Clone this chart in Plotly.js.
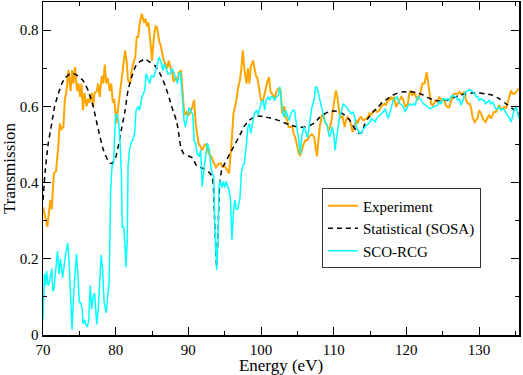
<!DOCTYPE html>
<html>
<head>
<meta charset="utf-8">
<script src="https://cdn.plot.ly/plotly-3.0.1.min.js"></script>
<style>
  html, body { margin: 0; padding: 0; background: #fff; }
  #chart { width: 523px; height: 375px; }
</style>
</head>
<body>
<div id="chart"></div>
<script>
// Transmission spectrum: experiment vs. two calculations

const expEnergy = [70.0, 70.2, 70.6, 71.0, 71.2, 71.5, 71.8, 72.1, 72.3, 72.5, 72.8, 73.0, 73.3, 73.5, 73.8, 74.0, 74.2, 74.4, 74.7, 74.9,
  75.1, 75.3, 75.5, 75.7, 76.0, 76.2, 76.4, 76.7, 76.9, 77.1, 77.4, 77.6, 77.8, 78.1, 78.3, 78.5, 78.7, 78.9, 79.2, 79.4,
  79.6, 79.8, 80.1, 80.3, 80.5, 80.8, 81.0, 81.3, 81.5, 81.7, 82.0, 82.2, 82.4, 82.7, 82.9, 83.1, 83.3, 83.6, 83.9, 84.1,
  84.3, 84.5, 84.8, 85.0, 85.3, 85.5, 85.7, 86.0, 86.2, 86.4, 86.6, 86.9, 87.1, 87.3, 87.6, 87.8, 88.0, 88.3, 88.5, 88.7,
  89.0, 89.2, 89.4, 89.6, 89.8, 90.1, 90.3, 90.5, 90.8, 91.0, 91.2, 91.4, 91.7, 91.9, 92.1, 92.4, 92.6, 92.8, 93.1, 93.3,
  93.5, 93.8, 94.0, 94.2, 94.5, 94.7, 94.9, 95.1, 95.4, 95.6, 95.8, 96.0, 96.2, 96.4, 96.6, 96.8, 97.1, 97.3, 97.5, 97.7,
  98.0, 98.2, 98.4, 98.6, 98.9, 99.1, 99.3, 99.5, 99.8, 100.0, 100.3, 100.5, 100.7, 100.9, 101.1, 101.3, 101.6, 101.8, 102.0, 102.2,
  102.5, 102.7, 102.9, 103.2, 103.4, 103.6, 103.8, 104.1, 104.3, 104.5, 104.7, 105.0, 105.2, 105.4, 105.7, 105.9, 106.1, 106.4, 106.6, 106.8,
  107.0, 107.3, 107.5, 107.7, 107.9, 108.1, 108.4, 108.6, 108.8, 109.1, 109.3, 109.5, 109.7, 110.1, 110.3, 110.5, 110.8, 111.0, 111.2, 111.5,
  111.7, 111.9, 112.2, 112.4, 112.6, 112.9, 113.1, 113.3, 113.5, 113.8, 114.0, 114.2, 114.5, 114.7, 114.9, 115.1, 115.4, 115.6, 116.0, 116.3,
  116.5, 116.7, 117.0, 117.2, 117.4, 117.6, 117.9, 118.1, 118.3, 118.6, 118.8, 119.0, 119.3, 119.5, 119.7, 119.9, 120.2, 120.4, 120.6, 120.8,
  121.1, 121.3, 121.5, 121.7, 121.9, 122.2, 122.5, 122.8, 123.1, 123.4, 123.6, 123.8, 124.0, 124.3, 124.5, 124.7, 125.0, 125.2, 125.4, 125.7,
  125.9, 126.2, 126.4, 126.6, 126.9, 127.1, 127.3, 127.5, 127.8, 128.0, 128.2, 128.5, 128.7, 128.9, 129.1, 129.4, 129.6, 129.8, 130.0, 130.3,
  130.5, 130.7, 130.9, 131.2, 131.4, 131.6, 131.9, 132.1, 132.3, 132.6, 132.8, 133.0, 133.2, 133.5, 133.7, 133.9, 134.2, 134.4, 134.6, 134.9,
  135.1, 135.3, 135.5];
const expTrans = [0.336, 0.32, 0.284, 0.354, 0.33, 0.424, 0.43, 0.493, 0.555, 0.54, 0.545, 0.616, 0.65, 0.695, 0.64, 0.695, 0.66, 0.703, 0.64, 0.66,
  0.625, 0.66, 0.59, 0.635, 0.6, 0.62, 0.61, 0.635, 0.6, 0.635, 0.64, 0.66, 0.625, 0.68, 0.66, 0.71, 0.66, 0.675, 0.64, 0.66,
  0.61, 0.62, 0.555, 0.59, 0.625, 0.677, 0.695, 0.747, 0.72, 0.668, 0.66, 0.695, 0.71, 0.73, 0.782, 0.782, 0.817, 0.843, 0.82, 0.83,
  0.81, 0.82, 0.765, 0.72, 0.79, 0.81, 0.807, 0.77, 0.76, 0.744, 0.72, 0.71, 0.70, 0.72, 0.70, 0.686, 0.665, 0.675, 0.67, 0.69,
  0.693, 0.65, 0.59, 0.577, 0.585, 0.577, 0.585, 0.595, 0.617, 0.555, 0.53, 0.503, 0.493, 0.485, 0.493, 0.502, 0.493, 0.476, 0.47, 0.46,
  0.45, 0.44, 0.445, 0.45, 0.45, 0.44, 0.445, 0.44, 0.432, 0.424, 0.467, 0.52, 0.58, 0.597, 0.615, 0.643, 0.67, 0.70, 0.747, 0.70,
  0.66, 0.70, 0.66, 0.705, 0.72, 0.70, 0.68, 0.675, 0.64, 0.616, 0.616, 0.635, 0.65, 0.667, 0.677, 0.64, 0.63, 0.62, 0.63, 0.643,
  0.648, 0.643, 0.581, 0.6, 0.572, 0.563, 0.546, 0.546, 0.546, 0.528, 0.52, 0.494, 0.476, 0.472, 0.494, 0.503, 0.511, 0.511, 0.52, 0.524,
  0.527, 0.52, 0.494, 0.469, 0.511, 0.55, 0.576, 0.576, 0.56, 0.55, 0.536, 0.545, 0.564, 0.616, 0.642, 0.625, 0.58, 0.57, 0.575, 0.546,
  0.564, 0.572, 0.564, 0.55, 0.533, 0.55, 0.564, 0.555, 0.568, 0.572, 0.564, 0.564, 0.568, 0.572, 0.581, 0.577, 0.585, 0.59, 0.585, 0.59,
  0.598, 0.603, 0.607, 0.603, 0.616, 0.616, 0.625, 0.616, 0.625, 0.598, 0.607, 0.616, 0.625, 0.62, 0.607, 0.598, 0.607, 0.633, 0.642, 0.629,
  0.638, 0.625, 0.616, 0.625, 0.633, 0.66, 0.66, 0.69, 0.642, 0.607, 0.603, 0.607, 0.616, 0.612, 0.625, 0.62, 0.616, 0.62, 0.603, 0.598,
  0.598, 0.616, 0.629, 0.633, 0.633, 0.633, 0.638, 0.633, 0.633, 0.638, 0.616, 0.607, 0.607, 0.598, 0.572, 0.559, 0.564, 0.568, 0.59, 0.581,
  0.568, 0.564, 0.559, 0.572, 0.577, 0.568, 0.581, 0.585, 0.585, 0.598, 0.603, 0.594, 0.594, 0.598, 0.594, 0.607, 0.625, 0.642, 0.633, 0.633,
  0.638, 0.642, 0.647];

const sosaEnergy = [70.0, 70.3, 70.7, 71.2, 71.6, 72.1, 72.6, 73.0, 73.7, 74.2, 74.8, 75.5, 76.2, 76.9, 77.6, 78.3, 79.0, 79.4, 79.9, 80.3,
  80.8, 81.3, 81.7, 82.2, 82.9, 83.3, 84.0, 84.7, 85.4, 86.1, 86.8, 87.4, 87.9, 88.4, 88.7, 89.0, 89.4, 90.0, 90.6, 91.1,
  91.6, 92.3, 92.9, 93.3, 93.6, 93.9, 94.1, 94.3, 94.6, 95.0, 95.7, 96.4, 97.1, 97.7, 98.4, 99.1, 99.8, 100.5, 101.2, 101.9,
  102.6, 103.2, 103.9, 104.6, 105.3, 106.0, 106.7, 107.4, 108.0, 108.7, 109.4, 110.1, 110.8, 111.5, 112.2, 112.6, 113.1, 113.5, 113.9, 114.2,
  114.7, 115.4, 116.1, 116.7, 117.4, 118.1, 118.8, 119.5, 120.2, 120.9, 121.6, 122.2, 122.7, 123.6, 124.5, 125.5, 126.4, 127.3, 128.2, 129.1,
  130.0, 130.9, 131.9, 132.8, 133.7, 134.6, 135.5];
const sosaTrans = [0.354, 0.43, 0.5, 0.555, 0.6, 0.633, 0.66, 0.673, 0.686, 0.686, 0.68, 0.668, 0.642, 0.6, 0.54, 0.486, 0.456, 0.45, 0.46, 0.49,
  0.54, 0.59, 0.642, 0.677, 0.712, 0.717, 0.724, 0.716, 0.707, 0.686, 0.655, 0.62, 0.588, 0.56, 0.525, 0.49, 0.475, 0.47, 0.464, 0.445,
  0.44, 0.435, 0.426, 0.415, 0.31, 0.178, 0.28, 0.39, 0.434, 0.45, 0.475, 0.5, 0.525, 0.548, 0.564, 0.572, 0.575, 0.572, 0.57, 0.566,
  0.562, 0.557, 0.552, 0.548, 0.545, 0.546, 0.55, 0.557, 0.57, 0.58, 0.586, 0.588, 0.585, 0.577, 0.564, 0.55, 0.537, 0.529, 0.532, 0.55,
  0.568, 0.585, 0.598, 0.611, 0.62, 0.629, 0.635, 0.638, 0.638, 0.638, 0.635, 0.631, 0.625, 0.618, 0.614, 0.616, 0.622, 0.629, 0.633, 0.635,
  0.635, 0.633, 0.629, 0.62, 0.607, 0.594, 0.581];

const rcgEnergy = [70.0, 70.1, 70.2, 70.35, 70.5, 70.7, 70.9, 71.2, 71.35, 71.5, 71.8, 72.0, 72.2, 72.4, 72.7, 72.9, 73.1, 73.4, 73.6, 73.8,
  74.0, 74.2, 74.4, 74.6, 74.8, 75.0, 75.2, 75.4, 75.5, 75.7, 75.9, 76.1, 76.3, 76.5, 76.7, 76.9, 77.1, 77.2, 77.4, 77.6,
  77.8, 78.0, 78.2, 78.4, 78.7, 78.9, 79.1, 79.2, 79.3, 79.5, 79.7, 79.9, 80.0, 80.2, 80.4, 80.6, 80.8, 80.9, 81.1, 81.3,
  81.4, 81.6, 81.7, 81.9, 82.1, 82.3, 82.6, 82.8, 83.1, 83.3, 83.6, 83.8, 84.0, 84.2, 84.5, 84.7, 84.9, 85.2, 85.4, 85.6,
  85.8, 86.0, 86.3, 86.5, 86.7, 86.9, 87.2, 87.5, 87.7, 87.9, 88.2, 88.5, 88.7, 88.9, 89.1, 89.4, 89.6, 89.9, 90.1, 90.3,
  90.6, 90.8, 91.0, 91.2, 91.5, 91.7, 91.9, 92.2, 92.4, 92.6, 92.9, 93.1, 93.3, 93.5, 93.6, 93.8, 93.9, 94.1, 94.2, 94.4,
  94.6, 94.8, 95.0, 95.2, 95.4, 95.6, 95.8, 96.0, 96.2, 96.4, 96.6, 96.8, 97.1, 97.3, 97.5, 97.7, 98.0, 98.2, 98.4, 98.6,
  98.9, 99.1, 99.4, 99.6, 99.8, 100.1, 100.3, 100.5, 100.7, 101.0, 101.2, 101.4, 101.6, 101.9, 102.1, 102.4, 102.6, 102.8, 103.0, 103.2,
  103.4, 103.7, 103.9, 104.1, 104.4, 104.6, 104.8, 105.0, 105.2, 105.4, 105.6, 105.9, 106.1, 106.4, 106.6, 106.8, 107.0, 107.3, 107.5, 107.7,
  107.9, 108.2, 108.4, 108.6, 108.8, 109.1, 109.4, 109.6, 109.8, 110.0, 110.2, 110.3, 110.6, 110.8, 111.1, 111.3, 111.5, 111.8, 112.0, 112.2,
  112.4, 112.7, 112.9, 113.1, 113.4, 113.6, 113.8, 114.0, 114.3, 114.5, 114.8, 115.0, 115.2, 115.4, 115.7, 115.9, 116.1, 116.4, 116.6, 116.8,
  117.1, 117.3, 117.5, 117.7, 118.0, 118.2, 118.4, 118.7, 118.9, 119.1, 119.4, 119.6, 119.8, 120.0, 120.3, 120.5, 120.7, 121.0, 121.2, 121.4,
  121.6, 121.9, 122.1, 122.3, 122.7, 123.2, 123.6, 124.1, 124.3, 124.5, 124.8, 125.0, 125.2, 125.4, 125.7, 125.9, 126.1, 126.4, 126.6, 126.8,
  127.1, 127.3, 127.5, 127.8, 128.0, 128.2, 128.5, 128.7, 128.9, 129.1, 129.4, 129.6, 129.8, 130.0, 130.3, 130.5, 130.7, 130.9, 131.2, 131.4,
  131.6, 131.9, 132.1, 132.3, 132.6, 132.8, 133.0, 133.3, 133.5, 133.7, 133.9, 134.2, 134.4, 134.6, 134.9, 135.1, 135.3, 135.5];
const rcgTrans = [0.04, 0.1, 0.161, 0.13, 0.168, 0.13, 0.14, 0.174, 0.115, 0.12, 0.194, 0.22, 0.16, 0.2, 0.15, 0.19, 0.21, 0.241, 0.19, 0.1,
  0.014, 0.1, 0.174, 0.213, 0.16, 0.085, 0.085, 0.068, 0.03, 0.04, 0.027, 0.021, 0.04, 0.13, 0.068, 0.1, 0.11, 0.07, 0.028, 0.068,
  0.148, 0.21, 0.174, 0.088, 0.058, 0.11, 0.14, 0.245, 0.374, 0.445, 0.45, 0.54, 0.578, 0.578, 0.56, 0.508, 0.415, 0.283, 0.283, 0.23,
  0.178, 0.25, 0.44, 0.485, 0.503, 0.51, 0.528, 0.589, 0.6, 0.59, 0.624, 0.633, 0.642, 0.686, 0.668, 0.66, 0.68, 0.677, 0.686, 0.703,
  0.72, 0.73, 0.712, 0.694, 0.712, 0.703, 0.686, 0.686, 0.699, 0.694, 0.677, 0.66, 0.686, 0.69, 0.642, 0.563, 0.546, 0.572, 0.597, 0.589,
  0.58, 0.51, 0.503, 0.477, 0.468, 0.486, 0.39, 0.442, 0.477, 0.503, 0.486, 0.442, 0.424, 0.415, 0.31, 0.197, 0.17, 0.265, 0.387, 0.406,
  0.387, 0.403, 0.387, 0.403, 0.393, 0.38, 0.354, 0.25, 0.32, 0.355, 0.33, 0.33, 0.36, 0.427, 0.445, 0.45, 0.503, 0.546, 0.555, 0.529,
  0.563, 0.581, 0.59, 0.577, 0.594, 0.611, 0.616, 0.59, 0.616, 0.625, 0.616, 0.625, 0.625, 0.616, 0.625, 0.63, 0.651, 0.616, 0.581, 0.572,
  0.59, 0.572, 0.563, 0.581, 0.59, 0.59, 0.563, 0.546, 0.511, 0.474, 0.52, 0.546, 0.537, 0.518, 0.546, 0.581, 0.598, 0.616, 0.65, 0.65,
  0.633, 0.607, 0.59, 0.572, 0.559, 0.55, 0.52, 0.529, 0.546, 0.529, 0.485, 0.503, 0.546, 0.572, 0.59, 0.607, 0.603, 0.598, 0.59, 0.585,
  0.581, 0.585, 0.572, 0.546, 0.533, 0.529, 0.529, 0.538, 0.546, 0.55, 0.555, 0.559, 0.568, 0.564, 0.559, 0.568, 0.572, 0.577, 0.581, 0.585,
  0.594, 0.581, 0.568, 0.581, 0.603, 0.616, 0.62, 0.625, 0.616, 0.607, 0.603, 0.598, 0.585, 0.594, 0.603, 0.607, 0.603, 0.607, 0.603, 0.616,
  0.625, 0.62, 0.616, 0.607, 0.603, 0.594, 0.598, 0.603, 0.603, 0.612, 0.607, 0.62, 0.62, 0.616, 0.62, 0.616, 0.625, 0.629, 0.625, 0.625,
  0.616, 0.62, 0.603, 0.616, 0.633, 0.638, 0.642, 0.644, 0.642, 0.638, 0.633, 0.625, 0.625, 0.616, 0.62, 0.616, 0.616, 0.607, 0.611, 0.616,
  0.607, 0.611, 0.603, 0.594, 0.594, 0.598, 0.59, 0.594, 0.59, 0.581, 0.577, 0.568, 0.559, 0.572, 0.594, 0.598, 0.585, 0.568];

const xTickVals = [70, 80, 90, 100, 110, 120, 130];
const yTickVals = [0, 0.2, 0.4, 0.6, 0.8];
const yTickText = ['0', '0.2', '0.4', '0.6', '0.8'];

const serif = '"Liberation Serif"';

const traces = [
  {
    x: expEnergy, y: expTrans,
    mode: 'lines', name: 'Experiment',
    line: { color: '#ffa500', width: 2 }
  },
  {
    x: sosaEnergy, y: sosaTrans,
    mode: 'lines', name: 'Statistical (SOSA)',
    line: { color: '#000000', width: 1.5, dash: '5px,4px', shape: 'spline', smoothing: 0.6 }
  },
  {
    x: rcgEnergy, y: rcgTrans,
    mode: 'lines', name: 'SCO-RCG',
    line: { color: '#00ffff', width: 1.5 }
  }
];

const axisCommon = {
  showgrid: false,
  zeroline: false,
  showline: true,
  linecolor: '#000',
  linewidth: 1.5,
  mirror: 'allticks',
  ticks: 'inside',
  ticklen: 8,
  tickwidth: 1,
  tickcolor: '#000',
  tickfont: { family: serif, size: 15, color: '#000' },
  fixedrange: true
};

const layout = {
  width: 523,
  height: 375,
  margin: { l: 43, r: 4, t: 2, b: 40, pad: 0 },
  paper_bgcolor: '#fff',
  plot_bgcolor: '#fff',
  font: { family: serif, color: '#000' },
  xaxis: Object.assign({}, axisCommon, {
    range: [70, 135.5],
    tickvals: xTickVals,
    minor: { dtick: 5, tick0: 70, ticks: 'inside', ticklen: 4, tickcolor: '#000', tickwidth: 1 },
    title: { text: 'Energy (eV)', font: { family: serif, size: 17 }, standoff: 2 }
  }),
  yaxis: Object.assign({}, axisCommon, {
    range: [0, 0.874],
    tickvals: yTickVals,
    ticktext: yTickText,
    minor: { dtick: 0.1, tick0: 0, ticks: 'inside', ticklen: 4, tickcolor: '#000', tickwidth: 1 },
    title: { text: 'Transmission', font: { family: serif, size: 17 }, standoff: 6 }
  }),
  showlegend: true,
  legend: {
    x: 0.586, y: 0.44, xanchor: 'left', yanchor: 'top',
    bgcolor: '#fff',
    bordercolor: '#333',
    borderwidth: 1,
    itemwidth: 30,
    tracegroupgap: 0,
    font: { family: serif, size: 15, color: '#000' }
  }
};

Plotly.newPlot('chart', traces, layout, { displayModeBar: false, staticPlot: true });
</script>
</body>
</html>
